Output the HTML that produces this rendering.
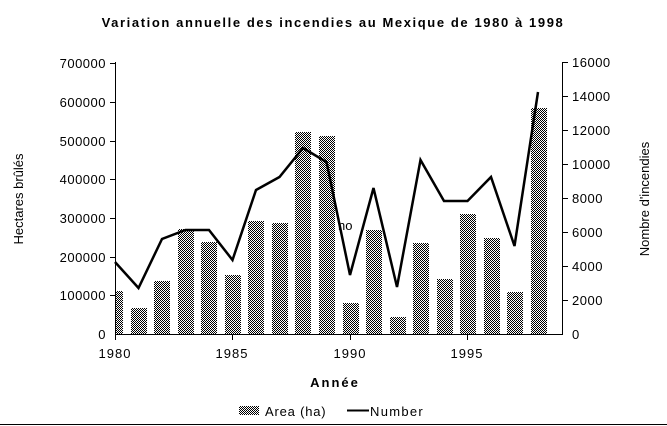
<!DOCTYPE html>
<html><head><meta charset="utf-8"><style>
body{margin:0;background:#fff}
svg{display:block}
text{font-family:"Liberation Sans",sans-serif;font-size:13px;fill:#000}
</style></head><body>
<svg width="667" height="426" viewBox="0 0 667 426" xmlns="http://www.w3.org/2000/svg">
<defs>
<pattern id="p" width="2" height="2" patternUnits="userSpaceOnUse">
<rect width="2" height="2" fill="#fff"/>
<rect width="1" height="1" fill="#000"/>
<rect x="1" y="1" width="1" height="1" fill="#000"/>
</pattern>
<clipPath id="c"><rect x="115" y="40" width="448" height="295"/></clipPath>
</defs>
<rect width="667" height="426" fill="#fff"/>
<line x1="0" y1="424.5" x2="667" y2="424.5" stroke="#000" stroke-width="1"/>
<text x="333" y="27" text-anchor="middle" font-weight="bold" style="font-size:13px;letter-spacing:1.6px">Variation annuelle des incendies au Mexique de 1980 à 1998</text>
<g clip-path="url(#c)" fill="url(#p)">
<rect x="107" y="291" width="16" height="43"/>
<rect x="131" y="308" width="16" height="26"/>
<rect x="154" y="281" width="16" height="53"/>
<rect x="178" y="229" width="16" height="105"/>
<rect x="201" y="242" width="16" height="92"/>
<rect x="225" y="275" width="16" height="59"/>
<rect x="248" y="221" width="16" height="113"/>
<rect x="272" y="223" width="16" height="111"/>
<rect x="295" y="132" width="16" height="202"/>
<rect x="319" y="136" width="16" height="198"/>
<rect x="343" y="303" width="16" height="31"/>
<rect x="366" y="230" width="16" height="104"/>
<rect x="390" y="317" width="16" height="17"/>
<rect x="413" y="243" width="16" height="91"/>
<rect x="437" y="279" width="16" height="55"/>
<rect x="460" y="214" width="16" height="120"/>
<rect x="484" y="238" width="16" height="96"/>
<rect x="507" y="292" width="16" height="42"/>
<rect x="531" y="108" width="16" height="226"/>
</g>
<polyline fill="none" stroke="#000" stroke-width="2.5" stroke-linejoin="miter" points="115,262 138.5,288 162,239 185.5,230 209,230 232.5,260 256,190 279.5,177 303,148 326.5,162 350,275 373.5,188 397,287 420.5,160 444,201 467.5,201 491,177 514.5,246 538,92"/>
<text x="338" y="230">no</text>
<g stroke="#000" stroke-width="1" fill="none">
<line x1="115.5" y1="62" x2="115.5" y2="334"/>
<line x1="562.5" y1="62" x2="562.5" y2="334"/>
<line x1="115" y1="334.5" x2="563" y2="334.5"/>
<line x1="110" y1="63.5" x2="115" y2="63.5"/>
<line x1="110" y1="102.5" x2="115" y2="102.5"/>
<line x1="110" y1="141.5" x2="115" y2="141.5"/>
<line x1="110" y1="179.5" x2="115" y2="179.5"/>
<line x1="110" y1="218.5" x2="115" y2="218.5"/>
<line x1="110" y1="257.5" x2="115" y2="257.5"/>
<line x1="110" y1="295.5" x2="115" y2="295.5"/>
<line x1="563" y1="62.5" x2="568" y2="62.5"/>
<line x1="563" y1="96.5" x2="568" y2="96.5"/>
<line x1="563" y1="130.5" x2="568" y2="130.5"/>
<line x1="563" y1="164.5" x2="568" y2="164.5"/>
<line x1="563" y1="198.5" x2="568" y2="198.5"/>
<line x1="563" y1="232.5" x2="568" y2="232.5"/>
<line x1="563" y1="266.5" x2="568" y2="266.5"/>
<line x1="563" y1="300.5" x2="568" y2="300.5"/>
<line x1="115.5" y1="334" x2="115.5" y2="340"/>
<line x1="232.5" y1="334" x2="232.5" y2="340"/>
<line x1="350.5" y1="334" x2="350.5" y2="340"/>
<line x1="467.5" y1="334" x2="467.5" y2="340"/>
</g>
<g text-anchor="end" style="letter-spacing:0.5px">
<text x="106" y="68">700000</text>
<text x="106" y="107">600000</text>
<text x="106" y="146">500000</text>
<text x="106" y="184">400000</text>
<text x="106" y="223">300000</text>
<text x="106" y="262">200000</text>
<text x="106" y="300">100000</text>
<text x="106" y="339">0</text>
</g>
<g text-anchor="start" style="letter-spacing:0.5px">
<text x="572" y="67">16000</text>
<text x="572" y="101">14000</text>
<text x="572" y="135">12000</text>
<text x="572" y="169">10000</text>
<text x="572" y="203">8000</text>
<text x="572" y="237">6000</text>
<text x="572" y="271">4000</text>
<text x="572" y="305">2000</text>
<text x="572" y="339">0</text>
</g>
<g text-anchor="middle" style="letter-spacing:1px">
<text x="115" y="358">1980</text>
<text x="232" y="358">1985</text>
<text x="350" y="358">1990</text>
<text x="467" y="358">1995</text>
</g>
<text x="335" y="387" text-anchor="middle" font-weight="bold" style="letter-spacing:2px">Année</text>
<text transform="translate(23,199) rotate(-90)" text-anchor="middle">Hectares brûlés</text>
<text transform="translate(649,199) rotate(-90)" text-anchor="middle">Nombre d'incendies</text>
<rect x="239" y="406" width="20" height="9" fill="url(#p)"/>
<text x="265" y="416" style="letter-spacing:0.8px">Area (ha)</text>
<line x1="347" y1="410.5" x2="369" y2="410.5" stroke="#000" stroke-width="2"/>
<text x="370" y="416" style="letter-spacing:1.3px">Number</text>
</svg>
</body></html>
